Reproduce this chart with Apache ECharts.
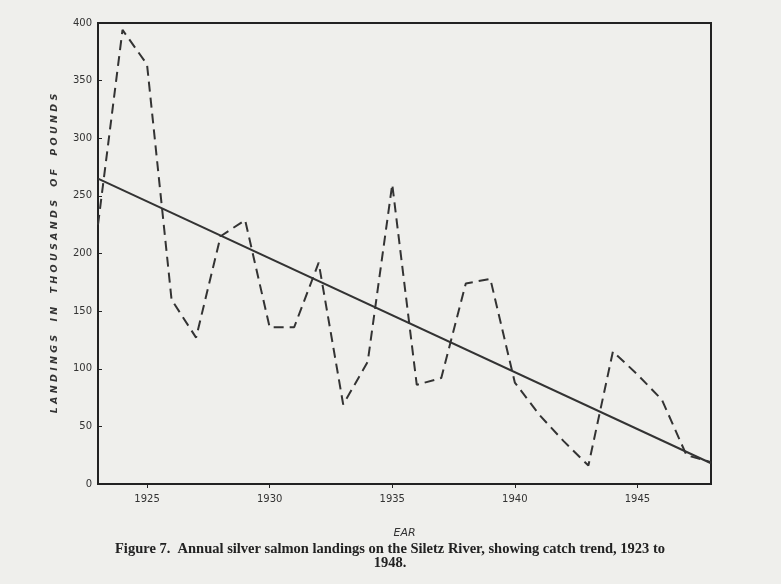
<!DOCTYPE html><html><head><meta charset="utf-8">
<script src="https://cdn.jsdelivr.net/npm/echarts@6/dist/echarts.min.js"></script>
<style>html,body{margin:0;background:#efefec}#c{width:781px;height:584px}</style></head><body>
<div id="c"></div>
<script>
var years=[1923,1924,1925,1926,1927,1928,1929,1930,1931,1932,1933,1934,1935,1936,1937,1938,1939,1940,1941,1942,1943,1944,1945,1946,1947,1948];
var landings=[225,394,364,160,127,215,229,136,136,192,69,106,260,86,92,174,178,88,60,37,16,115,95,73,25,19];
var trendYears=[1923,1948];
var trendValues=[265,18];
var xTicks=[1925,1930,1935,1940,1945];
var yTicks=[0,50,100,150,200,250,300,350,400];
var c=echarts.init(document.getElementById('c'));
var lab={color:'#333',fontFamily:'DejaVu Sans',fontSize:10};
c.setOption({
 backgroundColor:'#efefec',animation:false,
 grid:{left:98,right:70,top:23,bottom:100,show:true,borderColor:'#222',borderWidth:2,backgroundColor:'transparent'},
 xAxis:{type:'value',min:1923,max:1948,splitLine:{show:false},
  axisLine:{lineStyle:{color:'#222',width:2}},
  axisTick:{customValues:xTicks,length:4,lineStyle:{color:'#222'}},
  axisLabel:Object.assign({customValues:xTicks,margin:10,formatter:function(v){return String(v)}},lab),
  name:'EAR',nameLocation:'middle',nameGap:44,nameTextStyle:{fontStyle:'italic',fontFamily:'DejaVu Sans',fontSize:11,color:'#333'}},
 yAxis:{type:'value',min:0,max:400,interval:50,splitLine:{show:false},
  axisLine:{show:true,lineStyle:{color:'#222',width:2}},
  axisTick:{show:true,inside:true,length:4,lineStyle:{color:'#222'}},
  axisLabel:Object.assign({margin:6},lab),
  name:'L A N D I N G S    I N    T H O U S A N D S    O F    P O U N D S',nameLocation:'middle',nameGap:38,
  nameTextStyle:{fontStyle:'italic',fontWeight:'bold',fontFamily:'DejaVu Sans',fontSize:9.5,color:'#333'}},
 series:[
  {type:'line',data:years.map(function(y,i){return [y,landings[i]]}),symbol:'none',
   lineStyle:{color:'#333',width:2,type:[10,6]}},
  {type:'line',data:trendYears.map(function(y,i){return [y,trendValues[i]]}),symbol:'none',
   lineStyle:{color:'#333',width:2}}
 ],
 graphic:[{type:'text',x:390,y:542,style:{text:'Figure 7.  Annual silver salmon landings on the Siletz River, showing catch trend, 1923 to\n1948.',
  font:'bold 14.5px "Liberation Serif"',fill:'#222',align:'center',lineHeight:14}}]
});
</script></body></html>
